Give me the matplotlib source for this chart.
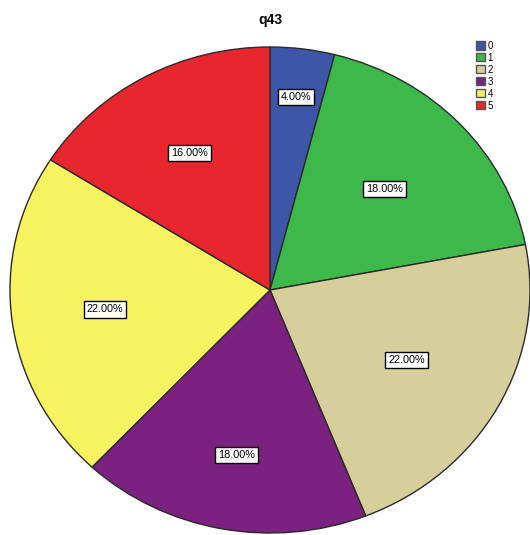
import numpy as np
import matplotlib.pyplot as plt
import matplotlib as mpl

mpl.rcParams['font.family'] = ['Liberation Sans', 'DejaVu Sans']

# data
categories = ['0', '1', '2', '3', '4', '5']
percent = [4, 18, 22, 18, 22, 16]
colors = ['#3d56a8', '#3cb94a', '#d6cf9c', '#7b2180', '#f6f260', '#e8262d']

# how far out each label box sits (fraction of radius)
label_dist = [0.80, 0.605, 0.60, 0.69, 0.64, 0.645]

fig = plt.figure(figsize=(5.3, 5.35), dpi=100)
ax = fig.add_axes([10 / 530, 2 / 535, 520 / 530, 486 / 535])

wedges, texts, autotexts = ax.pie(
    percent, colors=colors, startangle=90, counterclock=False,
    autopct='%.2f%%', pctdistance=0.63,
    wedgeprops=dict(edgecolor='#2a2a2a', linewidth=1.0),
    textprops=dict(fontsize=7.8, color='black'))

for w, t, d in zip(wedges, autotexts, label_dist):
    ang = np.deg2rad((w.theta1 + w.theta2) / 2)
    t.set_position((d * np.cos(ang), d * np.sin(ang)))
    t.set_bbox(dict(facecolor='white', edgecolor='black', linewidth=1.0, pad=2.2))

ax.set_aspect('auto')
ax.set_xlim(-1.0, 1.0)
ax.set_ylim(-1.0, 1.0)
ax.axis('off')

fig.text(270 / 530, 1 - 20 / 535, 'q43', ha='center', va='center',
         fontsize=10, fontweight='bold')

handles = [mpl.patches.Patch(facecolor=c, edgecolor='#555555') for c in colors]
fig.legend(handles, categories, loc='upper left',
           bbox_to_anchor=(471 / 530, 1 - 36 / 535), frameon=False,
           fontsize=7, handlelength=0.9, handleheight=0.9,
           handletextpad=0.3, labelspacing=0.2, borderpad=0)

fig.savefig('out.png', dpi=100)
